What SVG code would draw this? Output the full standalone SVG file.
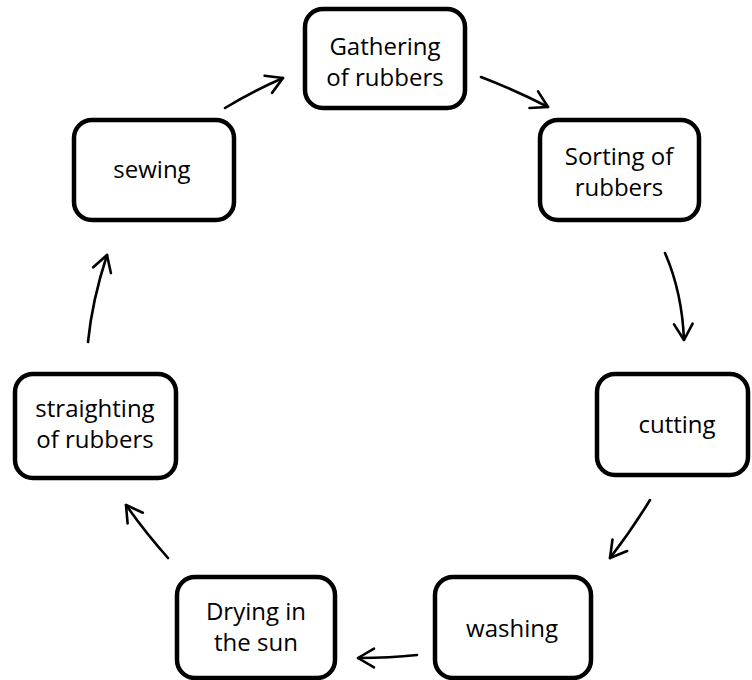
<svg xmlns="http://www.w3.org/2000/svg" width="752" height="680" viewBox="0 0 752 680">
<style>
.box{fill:#fff;stroke:#000;stroke-width:4.5}
.lbl{font-family:"Open Sans","Liberation Sans",sans-serif;font-size:24px;fill:#000;text-anchor:middle}
.conn{fill:none;stroke:#000;stroke-width:2.6;stroke-linecap:round}
</style>
<defs>
<marker id="arr" markerUnits="userSpaceOnUse" viewBox="-20 -12 24 24" markerWidth="24" markerHeight="24" refX="0" refY="0" orient="auto">
<path d="M-16,-9.3 L0,0 L-16,9.3" fill="none" stroke="#000" stroke-width="2.6" stroke-linecap="round" stroke-linejoin="round"/>
</marker>
</defs>
<rect width="752" height="680" fill="#fff"/>
<g id="gathering"><rect class="box" x="305" y="9" width="160" height="99" rx="18"/><text class="lbl" x="385" y="55">Gathering</text><text class="lbl" x="385" y="86">of rubbers</text></g>
<g id="sorting"><rect class="box" x="540" y="120" width="159" height="100" rx="18"/><text class="lbl" x="619" y="165">Sorting of</text><text class="lbl" x="619" y="196">rubbers</text></g>
<g id="cutting"><rect class="box" x="597" y="374" width="151" height="101" rx="18"/><text class="lbl" x="677" y="433">cutting</text></g>
<g id="washing"><rect class="box" x="435" y="577" width="156" height="101" rx="18"/><text class="lbl" x="512" y="637">washing</text></g>
<g id="drying"><rect class="box" x="177" y="577" width="158" height="101" rx="18"/><text class="lbl" x="256" y="620">Drying in</text><text class="lbl" x="256" y="651">the sun</text></g>
<g id="straighting"><rect class="box" x="15" y="374" width="161" height="104" rx="18"/><text class="lbl" x="95" y="417">straighting</text><text class="lbl" x="95" y="448">of rubbers</text></g>
<g id="sewing"><rect class="box" x="74" y="120" width="160" height="100" rx="18"/><text class="lbl" x="152" y="178">sewing</text></g>
<g id="connectors">
<path class="conn" d="M225,108 Q253,91 283,78" marker-end="url(#arr)"/>
<path class="conn" d="M481,77 Q515,90 548,107" marker-end="url(#arr)"/>
<path class="conn" d="M665,253 Q682,292 684,340" marker-end="url(#arr)"/>
<path class="conn" d="M650,500 Q631,531 610,558" marker-end="url(#arr)"/>
<path class="conn" d="M417,655 Q390,658 358,658" marker-end="url(#arr)"/>
<path class="conn" d="M168,558 Q145,532 126,505" marker-end="url(#arr)"/>
<path class="conn" d="M88,342 Q92,301 107,255" marker-end="url(#arr)"/>
</g>
</svg>
